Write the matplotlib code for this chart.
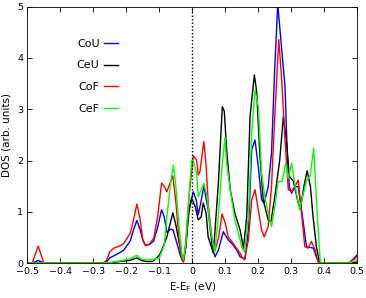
import numpy as np
import matplotlib
matplotlib.use("Agg")
import matplotlib.pyplot as plt

# DOS curves (energy in eV relative to E_F)
cou_e = [-0.5, -0.485, -0.467, -0.45, -0.27, -0.26, -0.25, -0.238, -0.22, -0.208, -0.188, -0.178,
         -0.168, -0.158, -0.15, -0.142, -0.13, -0.117, -0.105, -0.093, -0.085, -0.077, -0.065,
         -0.058, -0.045, -0.035, -0.027, -0.02, -0.012, 0.003, 0.012, 0.018, 0.025, 0.035, 0.042,
         0.048, 0.059, 0.069, 0.079, 0.094, 0.109, 0.124, 0.135, 0.145, 0.16, 0.17, 0.18, 0.19,
         0.2, 0.21, 0.218, 0.23, 0.24, 0.25, 0.259, 0.271, 0.281, 0.288, 0.294, 0.301, 0.311,
         0.321, 0.331, 0.346, 0.367, 0.377, 0.387, 0.475, 0.5]
cou_d = [0, 0, 0.05, 0, 0, 0.02, 0.10, 0.14, 0.20, 0.25, 0.43, 0.65,
         0.83, 0.65, 0.45, 0.35, 0.36, 0.43, 0.70, 1.04, 0.90, 0.60, 0.66,
         0.64, 0.35, 0.12, 0.03, 0.30, 1.00, 1.39, 1.23, 0.94, 1.15, 1.50, 1.25,
         1.04, 0.38, 0.12, 0.25, 0.61, 0.45, 0.35, 0.25, 0.12, 0.08, 0.64, 2.21, 2.40,
         1.88, 1.23, 1.17, 1.49, 2.14, 3.83, 5.05, 4.16, 3.44, 2.08, 1.49, 1.36, 1.49,
         1.49, 1.04, 0.32, 0.29, 0.10, 0, 0, 0.16]

ceu_e = [-0.5, -0.27, -0.25, -0.22, -0.19, -0.168, -0.155, -0.14, -0.12, -0.1, -0.09, -0.077,
         -0.059, -0.05, -0.04, -0.031, -0.027, -0.02, -0.01, -0.002, 0.009, 0.018, 0.027, 0.033,
         0.042, 0.048, 0.064, 0.079, 0.091, 0.097, 0.104, 0.115, 0.129, 0.145, 0.155, 0.165,
         0.175, 0.188, 0.195, 0.205, 0.215, 0.23, 0.238, 0.25, 0.265, 0.276, 0.286, 0.294,
         0.306, 0.321, 0.328, 0.338, 0.348, 0.358, 0.366, 0.376, 0.386, 0.475, 0.5]
ceu_d = [0, 0, 0, 0.03, 0.05, 0.10, 0.05, 0.03, 0.03, 0.15, 0.29, 0.51,
         0.98, 0.75, 0.40, 0.10, 0.03, 0.30, 1.00, 1.26, 1.10, 0.84, 0.90, 1.17,
         0.97, 0.51, 0.19, 1.56, 3.05, 2.96, 2.21, 1.43, 0.97, 0.64, 0.29, 0.90,
         2.86, 3.67, 3.35, 2.08, 1.23, 0.84, 0.80, 1.29, 2.01, 2.86, 2.34, 1.69,
         1.60, 1.17, 1.06, 1.49, 1.80, 1.49, 0.90, 0.32, 0, 0, 0.02]

cof_e = [-0.5, -0.485, -0.467, -0.45, -0.27, -0.26, -0.25, -0.238, -0.22, -0.208, -0.188, -0.178,
         -0.168, -0.158, -0.15, -0.142, -0.13, -0.117, -0.105, -0.093, -0.085, -0.077, -0.068,
         -0.059, -0.05, -0.04, -0.031, -0.027, -0.02, -0.01, 0.003, 0.013, 0.018, 0.023, 0.035,
         0.042, 0.048, 0.059, 0.069, 0.08, 0.09, 0.1, 0.109, 0.124, 0.145, 0.15, 0.158, 0.17,
         0.18, 0.19, 0.2, 0.21, 0.218, 0.23, 0.24, 0.25, 0.262, 0.271, 0.281, 0.291, 0.301,
         0.311, 0.321, 0.331, 0.341, 0.351, 0.361, 0.372, 0.382, 0.475, 0.5]
cof_d = [0, 0, 0.33, 0, 0, 0.05, 0.22, 0.29, 0.33, 0.38, 0.58, 0.85,
         1.15, 0.85, 0.45, 0.34, 0.37, 0.48, 0.90, 1.56, 1.50, 1.39, 1.55,
         1.70, 1.20, 0.45, 0.05, 0.02, 0.40, 1.30, 2.09, 2.01, 1.72, 1.78, 2.37,
         1.90, 1.17, 0.51, 0.25, 0.50, 0.96, 0.78, 0.51, 0.38, 0.19, 0.12, 0.06, 0.45,
         1.23, 1.43, 1.04, 0.64, 0.51, 0.71, 1.49, 2.86, 4.36, 3.57, 2.40, 1.43, 1.40,
         1.49, 1.62, 0.97, 0.32, 0.29, 0.42, 0.26, 0, 0, 0.13]

cef_e = [-0.5, -0.27, -0.25, -0.22, -0.19, -0.168, -0.155, -0.14, -0.12, -0.1, -0.085, -0.077,
         -0.065, -0.057, -0.05, -0.04, -0.031, -0.027, -0.02, -0.01, -0.002, 0.003, 0.013, 0.018,
         0.035, 0.045, 0.054, 0.068, 0.079, 0.089, 0.099, 0.104, 0.115, 0.129, 0.145, 0.15,
         0.158, 0.17, 0.18, 0.19, 0.2, 0.21, 0.22, 0.23, 0.24, 0.25, 0.26, 0.272, 0.283,
         0.291, 0.301, 0.312, 0.325, 0.337, 0.347, 0.357, 0.368, 0.379, 0.388, 0.475, 0.5]
cef_d = [0, 0, 0.01, 0.04, 0.08, 0.15, 0.08, 0.06, 0.07, 0.10, 0.35, 0.90,
         1.60, 1.91, 1.50, 0.70, 0.15, 0.06, 0.35, 1.30, 2.00, 2.00, 1.75, 1.29,
         1.56, 1.29, 0.71, 0.20, 0.90, 1.82, 2.45, 1.95, 1.43, 0.84, 0.45, 0.31,
         0.21, 0.90, 2.53, 3.38, 3.05, 1.75, 1.29, 0.97, 0.71, 1.10, 1.59, 1.59, 1.95,
         1.65, 1.95, 1.49, 1.04, 1.36, 1.62, 1.69, 2.24, 0.90, 0, 0, 0.07]

labels = ["CoU", "CeU", "CoF", "CeF"]
colors = ["#0000ff", "#000000", "#ff0000", "#00ff00"]
xticks = np.round(np.arange(-0.5, 0.51, 0.1), 1)
yticks = [0, 1, 2, 3, 4, 5]

fig = plt.figure(figsize=(3.66, 2.98), dpi=100)
ax = fig.add_axes([0.0746, 0.1174, 0.9016, 0.86])

for e, d, lab, c in zip([cou_e, ceu_e, cof_e, cef_e], [cou_d, ceu_d, cof_d, cef_d], labels, colors):
    ax.plot(e, d, color=c, lw=1.0, label=lab)

ax.axvline(0, color="k", ls=(0, (1, 1.5)), lw=1.0)

ax.set_xlim(-0.5, 0.5)
ax.set_ylim(0, 5)
ax.set_xticks(xticks)
ax.set_xticklabels(["\u22120.5", "\u22120.4", "\u22120.3", "\u22120.2", "\u22120.1",
                    "0", "0.1", "0.2", "0.3", "0.4", "0.5"])
ax.set_yticks(yticks)
ax.tick_params(direction="in", top=True, right=True, length=3.5, width=0.6,
               labelsize=6.8, pad=3)
for s in ax.spines.values():
    s.set_linewidth(0.6)

ax.set_xlabel("E-E$_\\mathrm{F}$ (eV)", fontsize=7.5, labelpad=3)
ax.set_ylabel("DOS (arb. units)", fontsize=7.5, labelpad=4)

ax.legend(loc="upper left", bbox_to_anchor=(0.15, 0.876), frameon=False, markerfirst=False,
          fontsize=8, handlelength=1.3, handletextpad=0.4, labelspacing=1.07,
          borderpad=0, borderaxespad=0)

fig.savefig("out.png", dpi=100)
